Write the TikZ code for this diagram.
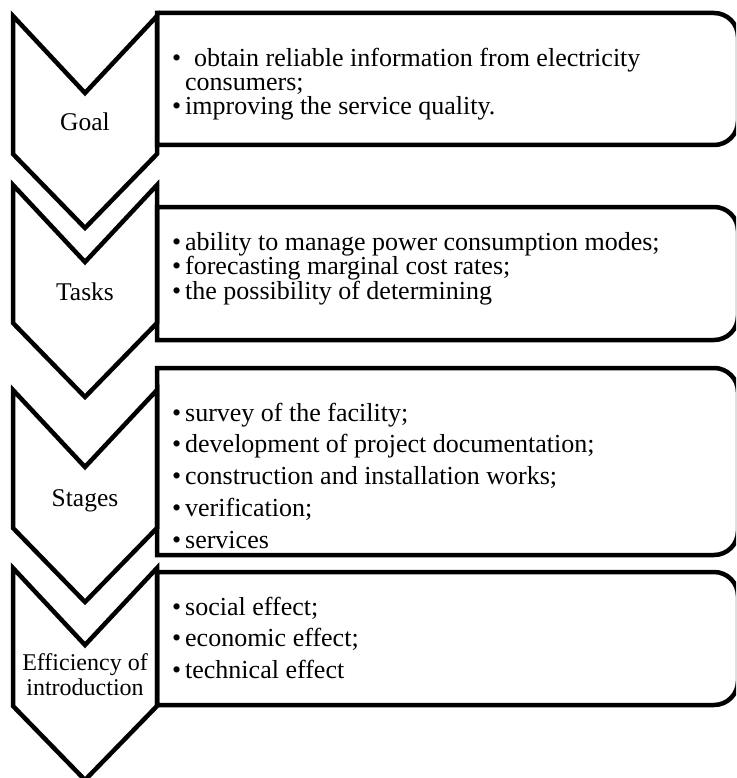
\documentclass[tikz,border=0pt]{standalone}
\usepackage{fontspec}
\setmainfont{Liberation Serif}
\begin{document}
\begin{tikzpicture}[x=1pt, y=-1pt,
    chevron/.style={draw, line width=4.5pt, line join=miter},
    listbox/.style={draw, line width=4.5pt, line join=miter},
    steplabel/.style={font=\fontsize{25.5}{25}\selectfont, align=center, inner sep=0pt, anchor=base},
    item/.style={font=\fontsize{26}{25}\selectfont, anchor=base west, inner sep=0pt}
  ]
  \useasboundingbox (0,0) rectangle (736,778);
  \clip (0,0) rectangle (736,778);

  % Chevrons
  \foreach \yt in {16, 185, 390, 568}
    \draw[chevron] (13,\yt) -- (85,\yt+77) -- (157,\yt) -- (157,\yt+138) -- (85,\yt+212) -- (13,\yt+138) -- cycle;

  % Boxes, rounded on the right
  \foreach \ya/\yb in {13/145, 207/340, 368/555, 572/705}
    \draw[listbox] (157,\ya) -- (714,\ya) arc[start angle=-90, end angle=0, radius=24]
      -- (738,\yb-24) arc[start angle=0, end angle=90, radius=24] -- (157,\yb) -- cycle;

  % Labels
  \node[steplabel] (goal) at (85,130.5) {Goal};
  \node[steplabel] (tasks) at (85,300) {Tasks};
  \node[steplabel] (stages) at (85,506) {Stages};
  \node[steplabel, font=\fontsize{24}{25}\selectfont] (efficiency) at (85,695) {Efficiency of\\introduction};

  % Goal items
  \node[item] (goal1) at (185,67) {\llap{\textbullet\kern4pt}\hspace{9pt}obtain reliable information from electricity};
  \node[item] (goal2) at (185,91) {consumers;};
  \node[item] (goal3) at (185,115) {\llap{\textbullet\kern4pt}improving the service quality.};

  % Task items
  \foreach \txt [count=\i] in {ability to manage power consumption modes;, forecasting marginal cost rates;, the possibility of determining}
    \node[item] (task\i) at (185,250+24.5*\i-24.5) {\llap{\textbullet\kern4pt}\txt};

  % Stage items
  \foreach \txt [count=\i] in {survey of the facility;, development of project documentation;, construction and installation works;, verification;, services}
    \node[item] (stage\i) at (185,421+31.8*\i-31.8) {\llap{\textbullet\kern4pt}\txt};

  % Efficiency items
  \foreach \txt [count=\i] in {social effect;, economic effect;, technical effect}
    \node[item] (effect\i) at (185,615+31.5*\i-31.5) {\llap{\textbullet\kern4pt}\txt};
\end{tikzpicture}
\end{document}
